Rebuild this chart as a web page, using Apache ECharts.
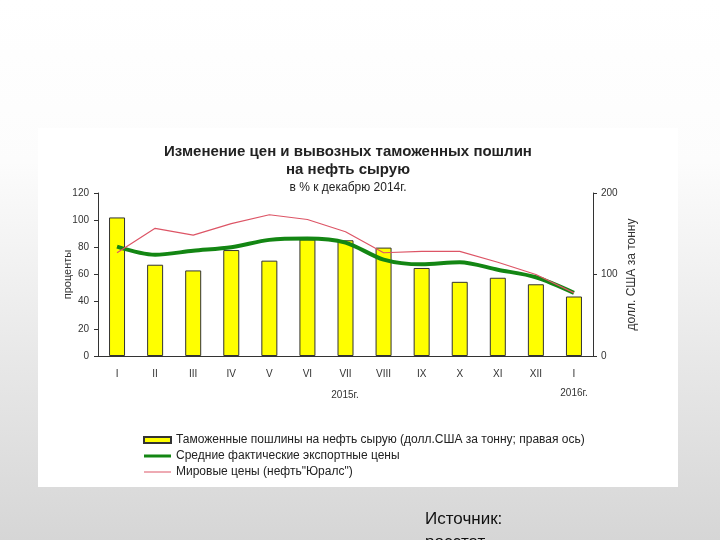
<!DOCTYPE html>
<html>
<head>
<meta charset="utf-8">
<script src="https://cdn.jsdelivr.net/npm/echarts@6/dist/echarts.min.js"></script>
<style>
html,body{margin:0;padding:0;}
#c{width:720px;height:540px;}
</style>
</head>
<body>
<div id="c"></div>
<script>
var categories = ['I','II','III','IV','V','VI','VII','VIII','IX','X','XI','XII','I'];
var duties = [170,112,105,130,117,143,142,133,108,91,96,88,73];
var exportPrices = [80.5,74.5,77.5,80,85.5,86.5,83.5,71,67.5,69,63.5,58,46.5];
var uralsPrices = [76,94,89,97.5,104,100.5,91.5,76,77,77,69,60,46.5];
var leftTicks = {min:0, max:120, interval:20};
var rightTicks = {min:0, max:200, interval:100};
var seriesNames = ['Таможенные пошлины на нефть сырую (долл.США за тонну; правая ось)','Средние фактические экспортные цены','Мировые цены (нефть"Юралс")'];

var font = '"Liberation Sans", Arial, sans-serif';
var chart = echarts.init(document.getElementById('c'));
chart.setOption({
  animation:false,
  backgroundColor:new echarts.graphic.LinearGradient(0,0,0,1,[
    {offset:0,color:'#ffffff'},{offset:0.3,color:'#fcfcfc'},{offset:0.7,color:'#e6e6e6'},{offset:1,color:'#d6d6d6'}]),
  textStyle:{fontFamily:font},
  graphic:[
    {type:'rect',z:-1,shape:{x:38,y:128,width:640,height:359},style:{fill:'#ffffff'}},
    {type:'text',x:345,y:395,style:{text:'2015г.',font:'10px '+font,fill:'#333',textAlign:'center',textVerticalAlign:'middle'}},
    {type:'text',x:574,y:393,style:{text:'2016г.',font:'10px '+font,fill:'#333',textAlign:'center',textVerticalAlign:'middle'}},
    {type:'text',x:425,y:508,style:{text:'Источник:\nросстат',font:'17px '+font,fill:'#111',lineHeight:23}}
  ],
  title:{
    left:343, top:138, textAlign:'center',
    text:'Изменение цен и вывозных таможенных пошлин\nна нефть сырую',
    textStyle:{fontFamily:font,fontSize:15,fontWeight:'bold',color:'#222',lineHeight:18},
    subtext:'в % к декабрю 2014г.',
    subtextStyle:{fontFamily:font,fontSize:12,color:'#222'},
    itemGap:3
  },
  legend:{
    orient:'vertical', left:138, top:429,
    itemWidth:27, itemHeight:6, itemGap:4,
    textStyle:{fontFamily:font,fontSize:12,color:'#222'},
    data:[
      {name:seriesNames[0],icon:'rect'},
      {name:seriesNames[1],icon:'path://M0,0h27v3h-27z'},
      {name:seriesNames[2],icon:'path://M0,0h27v1h-27z'}
    ]
  },
  grid:{left:98,right:127,top:193,bottom:184},
  xAxis:{
    type:'category', data:categories, boundaryGap:true,
    axisLine:{lineStyle:{color:'#333',width:1}},
    axisTick:{length:4,lineStyle:{color:'#333'}},
    axisLabel:{fontSize:10,color:'#333',margin:13}
  },
  yAxis:[
    {type:'value',min:leftTicks.min,max:leftTicks.max,interval:leftTicks.interval,
     name:'проценты',nameLocation:'middle',nameRotate:90,nameGap:25,nameMoveOverlap:false,
     nameTextStyle:{fontSize:11,color:'#333'},
     axisLine:{show:true,lineStyle:{color:'#333'}},
     axisTick:{show:true,length:4,lineStyle:{color:'#333'}},
     axisLabel:{fontSize:10,color:'#333',margin:9},
     splitLine:{show:false}},
    {type:'value',min:rightTicks.min,max:rightTicks.max,interval:rightTicks.interval,position:'right',
     name:'долл. США за тонну',nameLocation:'middle',nameRotate:90,nameGap:33,nameMoveOverlap:false,
     nameTextStyle:{fontSize:12,color:'#333'},
     axisLine:{show:true,lineStyle:{color:'#333'}},
     axisTick:{show:true,length:4,lineStyle:{color:'#333'}},
     axisLabel:{fontSize:10,color:'#333',margin:8},
     splitLine:{show:false}}
  ],
  series:[
    {name:seriesNames[0],type:'bar',yAxisIndex:1,data:duties,barWidth:16,
     itemStyle:{color:'#ffff00',borderColor:'#333',borderWidth:1}},
    {name:seriesNames[1],type:'line',yAxisIndex:0,data:exportPrices,symbol:'none',smooth:0.3,
     lineStyle:{color:'#138613',width:4},itemStyle:{color:'#138613'},z:3},
    {name:seriesNames[2],type:'line',yAxisIndex:0,data:uralsPrices,symbol:'none',
     lineStyle:{color:'#dd5566',width:1.2},itemStyle:{color:'#dd5566'},z:4}
  ]
});
</script>
</body>
</html>
